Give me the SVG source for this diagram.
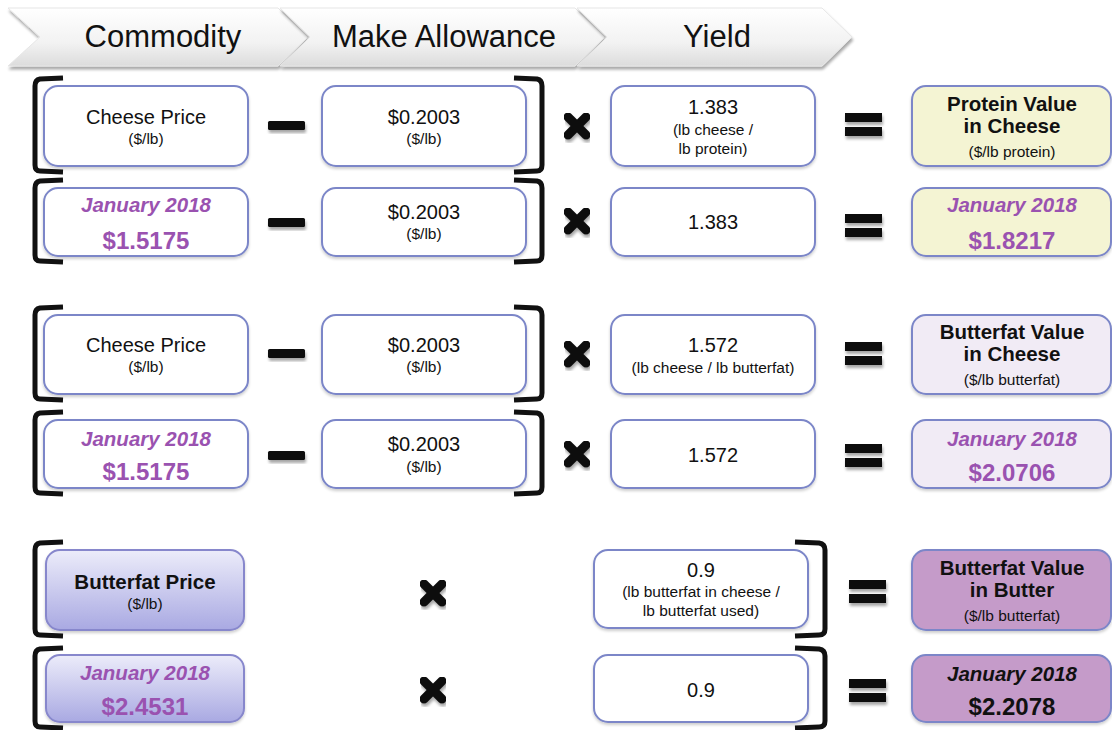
<svg xmlns="http://www.w3.org/2000/svg" width="1112" height="730" viewBox="0 0 1112 730">
<defs>
<linearGradient id="chev" x1="0" y1="0" x2="0" y2="1">
<stop offset="0" stop-color="#ffffff"/><stop offset="0.6" stop-color="#f2f2f2"/><stop offset="1" stop-color="#dcdcdc"/>
</linearGradient>
<linearGradient id="bfp" x1="0" y1="0" x2="0" y2="1">
<stop offset="0" stop-color="#ececfa"/><stop offset="1" stop-color="#a9a9e2"/>
</linearGradient>
<filter id="sh" x="-20%" y="-20%" width="140%" height="160%">
<feGaussianBlur in="SourceAlpha" stdDeviation="1.5"/><feOffset dx="1" dy="3" result="o"/>
<feComponentTransfer><feFuncA type="linear" slope="0.35"/></feComponentTransfer>
<feMerge><feMergeNode/><feMergeNode in="SourceGraphic"/></feMerge>
</filter>
<filter id="bs" x="-10%" y="-10%" width="120%" height="130%">
<feGaussianBlur in="SourceAlpha" stdDeviation="1.5"/><feOffset dx="0" dy="2"/>
<feComponentTransfer><feFuncA type="linear" slope="0.2"/></feComponentTransfer>
<feMerge><feMergeNode/><feMergeNode in="SourceGraphic"/></feMerge>
</filter>
</defs>
<style>
text{font-family:"Liberation Sans",Arial,sans-serif;text-anchor:middle;dominant-baseline:central;fill:#111}
.hd{font-size:31px}
.m{font-size:20px}
.s{font-size:15.5px}
.b{font-size:20.5px;font-weight:bold}
.jan{font-size:20.5px;font-weight:bold;font-style:italic;fill:#9a52b0}
.val{font-size:24px;font-weight:bold;fill:#9a52b0}
.box{fill:#fff;stroke:#7b86c8;stroke-width:2;filter:url(#bs)}
.yel{fill:#f4f4d3}
.lav{fill:#f1ebf5}
.orc{fill:#c59bc9}
.bf{fill:url(#bfp);stroke:#8787cc}
.br{fill:none;stroke:#111;stroke-width:5;stroke-linejoin:round}
.op{fill:#111;filter:url(#sh)}
.x{stroke:#111;stroke-width:9;stroke-linecap:round;filter:url(#sh)}
.chv{fill:url(#chev);stroke:#e6e6e6;stroke-width:1;filter:url(#sh)}
</style>

<g id="header">
<g id="h-commodity"><path class="chv" d="M8,8 L278,8 L308,37 L278,66 L8,66 L40,37 Z"/><text class="hd" x="163" y="36">Commodity</text></g>
<g id="h-make"><path class="chv" d="M280,8 L575,8 L605,37 L575,66 L280,66 L310,37 Z"/><text class="hd" x="444" y="36">Make Allowance</text></g>
<g id="h-yield"><path class="chv" d="M577,8 L822,8 L852,37 L822,66 L577,66 L607,37 Z"/><text class="hd" x="717" y="36">Yield</text></g>
</g>

<g id="connectors">
<path class="br" d="M63,78 L40,79 Q35,80 35,86 L35,165 Q35,171 40,171 L63,172"/>
<path class="br" d="M63,180 L40,181 Q35,182 35,188 L35,255 Q35,261 40,261 L63,262"/>
<path class="br" d="M514,78 L537,79 Q542,80 542,86 L542,165 Q542,171 537,171 L514,172"/>
<path class="br" d="M514,180 L537,181 Q542,182 542,188 L542,255 Q542,261 537,261 L514,262"/>
<path class="br" d="M63,307 L40,308 Q35,309 35,315 L35,393 Q35,399 40,399 L63,400"/>
<path class="br" d="M63,412 L40,413 Q35,414 35,420 L35,487 Q35,493 40,493 L63,494"/>
<path class="br" d="M514,307 L537,308 Q542,309 542,315 L542,393 Q542,399 537,399 L514,400"/>
<path class="br" d="M514,412 L537,413 Q542,414 542,420 L542,487 Q542,493 537,493 L514,494"/>
<path class="br" d="M63,542 L40,543 Q35,544 35,550 L35,629 Q35,635 40,635 L63,636"/>
<path class="br" d="M63,648 L40,649 Q35,650 35,656 L35,721 Q35,727 40,727 L63,728"/>
<path class="br" d="M795,542 L819,543 Q825,544 825,550 L825,629 Q825,635 819,635 L795,636"/>
<path class="br" d="M795,648 L819,649 Q825,650 825,656 L825,721 Q825,727 819,727 L795,728"/>
<rect class="op" x="268" y="121" width="37" height="9" rx="1.5"/>
<rect class="op" x="268" y="218" width="37" height="9" rx="1.5"/>
<rect class="op" x="268" y="349" width="37" height="9" rx="1.5"/>
<rect class="op" x="268" y="451" width="37" height="9" rx="1.5"/>
<g class="x"><line x1="568" y1="117" x2="586" y2="135"/><line x1="586" y1="117" x2="568" y2="135"/></g>
<g class="x"><line x1="568" y1="212" x2="586" y2="230"/><line x1="586" y1="212" x2="568" y2="230"/></g>
<g class="x"><line x1="568" y1="345" x2="586" y2="363"/><line x1="586" y1="345" x2="568" y2="363"/></g>
<g class="x"><line x1="568" y1="445" x2="586" y2="463"/><line x1="586" y1="445" x2="568" y2="463"/></g>
<g class="x"><line x1="424" y1="584" x2="442" y2="602"/><line x1="442" y1="584" x2="424" y2="602"/></g>
<g class="x"><line x1="424" y1="681" x2="442" y2="699"/><line x1="442" y1="681" x2="424" y2="699"/></g>
<g class="op"><rect x="845" y="113" width="37" height="9"/><rect x="845" y="127" width="37" height="9"/></g>
<g class="op"><rect x="845" y="214" width="37" height="9"/><rect x="845" y="228" width="37" height="9"/></g>
<g class="op"><rect x="845" y="342" width="37" height="9"/><rect x="845" y="356" width="37" height="9"/></g>
<g class="op"><rect x="845" y="444" width="37" height="9"/><rect x="845" y="458" width="37" height="9"/></g>
<g class="op"><rect x="849" y="580" width="37" height="9"/><rect x="849" y="594" width="37" height="9"/></g>
<g class="op"><rect x="849" y="679" width="37" height="9"/><rect x="849" y="693" width="37" height="9"/></g>
</g>

<g id="r1-cheese"><rect class="box" x="44" y="86" width="204" height="80" rx="14"/><text class="m" x="146" y="117">Cheese Price</text><text class="s" x="146" y="138">($/lb)</text></g>
<g id="r1-make"><rect class="box" x="322" y="86" width="204" height="80" rx="14"/><text class="m" x="424" y="117">$0.2003</text><text class="s" x="424" y="138">($/lb)</text></g>
<g id="r1-yield"><rect class="box" x="611" y="86" width="204" height="80" rx="14"/><text class="m" x="713" y="107">1.383</text><text class="s" x="713" y="129">(lb cheese /</text><text class="s" x="713" y="148">lb protein)</text></g>
<g id="r1-result"><rect class="box yel" x="912" y="86" width="199" height="80" rx="14"/><text class="b" x="1012" y="103">Protein Value</text><text class="b" x="1012" y="125">in Cheese</text><text class="s" x="1012" y="151">($/lb protein)</text></g>

<g id="r2-cheese"><rect class="box" x="44" y="188" width="204" height="68" rx="14"/><text class="jan" x="146" y="204">January 2018</text><text class="val" x="146" y="240">$1.5175</text></g>
<g id="r2-make"><rect class="box" x="322" y="188" width="204" height="68" rx="14"/><text class="m" x="424" y="212">$0.2003</text><text class="s" x="424" y="233">($/lb)</text></g>
<g id="r2-yield"><rect class="box" x="611" y="188" width="204" height="68" rx="14"/><text class="m" x="713" y="222">1.383</text></g>
<g id="r2-result"><rect class="box yel" x="912" y="188" width="199" height="68" rx="14"/><text class="jan" x="1012" y="204">January 2018</text><text class="val" x="1012" y="240">$1.8217</text></g>

<g id="r3-cheese"><rect class="box" x="44" y="315" width="204" height="79" rx="14"/><text class="m" x="146" y="345">Cheese Price</text><text class="s" x="146" y="366">($/lb)</text></g>
<g id="r3-make"><rect class="box" x="322" y="315" width="204" height="79" rx="14"/><text class="m" x="424" y="345">$0.2003</text><text class="s" x="424" y="366">($/lb)</text></g>
<g id="r3-yield"><rect class="box" x="611" y="315" width="204" height="79" rx="14"/><text class="m" x="713" y="345">1.572</text><text class="s" x="713" y="367">(lb cheese / lb butterfat)</text></g>
<g id="r3-result"><rect class="box lav" x="912" y="315" width="199" height="79" rx="14"/><text class="b" x="1012" y="331">Butterfat Value</text><text class="b" x="1012" y="353">in Cheese</text><text class="s" x="1012" y="379">($/lb butterfat)</text></g>

<g id="r4-cheese"><rect class="box" x="44" y="420" width="204" height="68" rx="14"/><text class="jan" x="146" y="438">January 2018</text><text class="val" x="146" y="471">$1.5175</text></g>
<g id="r4-make"><rect class="box" x="322" y="420" width="204" height="68" rx="14"/><text class="m" x="424" y="444">$0.2003</text><text class="s" x="424" y="466">($/lb)</text></g>
<g id="r4-yield"><rect class="box" x="611" y="420" width="204" height="68" rx="14"/><text class="m" x="713" y="455">1.572</text></g>
<g id="r4-result"><rect class="box lav" x="912" y="420" width="199" height="68" rx="14"/><text class="jan" x="1012" y="438">January 2018</text><text class="val" x="1012" y="472">$2.0706</text></g>

<g id="r5-butterfat"><rect class="box bf" x="46" y="550" width="198" height="80" rx="14"/><text class="b" x="145" y="581">Butterfat Price</text><text class="s" x="145" y="603">($/lb)</text></g>
<g id="r5-yield"><rect class="box" x="594" y="550" width="214" height="78" rx="14"/><text class="m" x="701" y="570">0.9</text><text class="s" x="701" y="591">(lb butterfat in cheese /</text><text class="s" x="701" y="610">lb butterfat used)</text></g>
<g id="r5-result"><rect class="box orc" x="912" y="550" width="199" height="80" rx="14"/><text class="b" x="1012" y="567">Butterfat Value</text><text class="b" x="1012" y="589">in Butter</text><text class="s" x="1012" y="615">($/lb butterfat)</text></g>

<g id="r6-butterfat"><rect class="box bf" x="46" y="655" width="198" height="67" rx="14"/><text class="jan" x="145" y="672">January 2018</text><text class="val" x="145" y="706">$2.4531</text></g>
<g id="r6-yield"><rect class="box" x="594" y="655" width="214" height="67" rx="14"/><text class="m" x="701" y="690">0.9</text></g>
<g id="r6-result"><rect class="box orc" x="912" y="655" width="199" height="67" rx="14"/><text class="jan" x="1012" y="673" style="fill:#111">January 2018</text><text class="val" x="1012" y="706" style="fill:#111">$2.2078</text></g>
</svg>
